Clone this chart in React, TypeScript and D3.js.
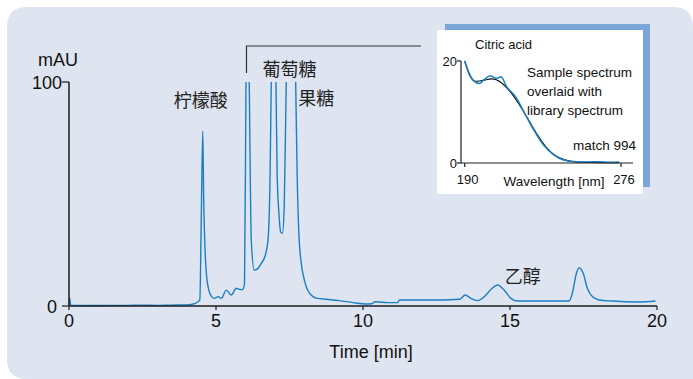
import React from "react";
import * as d3 from "d3";

// chromatogram (time in min, absorbance in mAU; off-scale peaks are estimates, clipped at 100)
const times = [
  0, 0.02, 0.06, 0.5, 1, 1.5, 2, 2.5, 3, 3.5, 4, 4.3, 4.45, 4.5, 4.55, 4.58, 4.65, 4.73,
  4.85, 4.95, 5.07, 5.18, 5.35, 5.52, 5.69, 5.8, 5.9, 5.97, 6.02, 6.07, 6.13, 6.2, 6.3,
  6.43, 6.54, 6.66, 6.77, 6.84, 6.88, 6.96, 7.04, 7.08, 7.14, 7.2, 7.26, 7.32, 7.39, 7.55,
  7.71, 7.76, 7.81, 7.9, 7.98, 8.07, 8.18, 8.3, 8.45, 8.75, 9.2, 9.66, 10.1, 10.3, 10.41,
  10.86, 11.18, 11.24, 12.06, 12.66, 13.28, 13.48, 13.67, 13.9, 14.13, 14.35, 14.58, 14.8,
  15.03, 15.26, 15.99, 17.01, 17.12, 17.26, 17.35, 17.49, 17.63, 17.8, 18.03, 18.48, 19.39,
  19.95,
];
const mAU = [
  0.3, 3.6, 0.4, 0.2, 0.2, 0.3, 0.3, 0.4, 0.3, 0.4, 0.5, 1.2, 2.7, 40, 78, 49, 19, 8.6,
  4.2, 3.4, 4.2, 3.4, 7.1, 4.9, 7.9, 7.4, 7.3, 10, 100, 160, 100, 29.5, 16,
  16.8, 19, 22, 29.5, 59, 100, 160, 100, 59, 41.5, 33, 32.5, 44, 100, 170,
  100, 59, 35, 19, 13, 8.6, 5.7, 4.2, 3.4, 3.0, 2.4, 1.5, 0.9, 1.0, 1.9,
  1.5, 1.5, 2.7, 2.7, 2.7, 3.0, 4.9, 3.4, 2.4, 4.2, 7.4, 9.4, 7.1,
  3.4, 2.2, 2.2, 2.2, 5.7, 14.6, 17.1, 14.6, 7.9, 4.2, 2.7, 2.2, 1.8,
  2.2,
];
const timeTicks = [0, 5, 10, 15, 20];
const mAUTicks = [0, 100];

const peakLabels = [
  { text: "柠檬酸", t: 4.55, v: 92 },
  { text: "葡萄糖", t: 7.57, v: 106 },
  { text: "果糖", t: 8.48, v: 93 },
  { text: "乙醇", t: 15.5, v: 13.5 },
];

// inset: UV spectrum of citric acid
const waveSample = [190, 192, 195, 198, 200.6, 204, 207.5, 210, 213, 218, 222.5, 228, 233.4, 239, 244.4, 251.7, 258, 264, 270, 275];
const sample = [20, 18, 16.1, 15.6, 16.3, 17.1, 16.6, 16.9, 15, 13, 10.1, 6.5, 3.5, 1.6, 0.6, 0.25, 0.2, 0.25, 0.15, 0.2];
const waveLib = [190, 193, 196, 200, 205, 210, 215, 220, 225, 230, 235, 240, 245, 250, 260, 270, 275];
const library = [20, 17, 16, 16.2, 16.5, 15.8, 14, 11.5, 8.5, 5.5, 3.0, 1.4, 0.6, 0.25, 0.1, 0.05, 0.05];
const waveTicks = [190, 276];
const absTicks = [0, 20];

const LATIN = "'Liberation Sans', Arial, sans-serif";
const CJK = "'Noto Sans CJK SC', sans-serif";
const BLUE = "#1b7fc6";
const AXIS = "#1e1e1e";

export default function App() {
  const x = d3.scaleLinear().domain([0, 20]).range([69, 657]);
  const y = d3.scaleLinear().domain([0, 100]).range([306, 82]);

  const trace = d3
    .line<number>()
    .x((_, i) => x(times[i]))
    .y((d) => y(d))
    .curve(d3.curveMonotoneX);

  const ix = d3.scaleLinear().domain([190, 276]).range([464.7, 621]);
  const iy = d3.scaleLinear().domain([0, 20]).range([163, 61]);
  const specSample = d3
    .line<number>()
    .x((_, i) => ix(waveSample[i]))
    .y((d) => iy(d))
    .curve(d3.curveMonotoneX);
  const specLib = d3
    .line<number>()
    .x((_, i) => ix(waveLib[i]))
    .y((d) => iy(d))
    .curve(d3.curveMonotoneX);

  const panel = "M7,27 Q7,7 27,7 L673,7 Q693,7 693,27 L693,379 L27,379 Q7,379 7,359 Z";

  return (
    <svg
      width={693}
      height={379}
      style={{ position: "absolute", left: 0, top: 0, display: "block" }}
    >
      <defs>
        <clipPath id="plotClip">
          <rect x={x(0) - 2} y={y(100)} width={x(20) - x(0) + 4} height={y(0) - y(100) + 2} />
        </clipPath>
      </defs>
      <rect width={693} height={379} fill="#fff" />
      <path d={panel} fill="#dee4f0" />

      {/* trace */}
      <path
        d={trace(mAU) || ""}
        fill="none"
        stroke={BLUE}
        strokeWidth={1.4}
        clipPath="url(#plotClip)"
      />

      {/* axes */}
      <line x1={x(0)} x2={x(20)} y1={y(0)} y2={y(0)} stroke={AXIS} strokeWidth={1.5} />
      <line x1={x(0)} x2={x(0)} y1={y(100)} y2={y(0)} stroke={AXIS} strokeWidth={1.5} />
      {timeTicks.map((t) => (
        <g key={t}>
          <line x1={x(t)} x2={x(t)} y1={y(0)} y2={y(0) + 4} stroke={AXIS} strokeWidth={1.2} />
          <text
            x={x(t)}
            y={327}
            textAnchor="middle"
            fontFamily={LATIN}
            fontSize={18}
            fill="#111"
          >
            {t}
          </text>
        </g>
      ))}
      {mAUTicks.map((v) => (
        <g key={v}>
          <line x1={x(0) - 7} x2={x(0)} y1={y(v)} y2={y(v)} stroke={AXIS} strokeWidth={1.2} />
          <text
            x={v === 0 ? 57 : 62}
            y={y(v) + 6.5}
            textAnchor="end"
            fontFamily={LATIN}
            fontSize={18}
            fill="#111"
          >
            {v}
          </text>
        </g>
      ))}
      <text x={38} y={66} fontFamily={LATIN} fontSize={18} fill="#111">
        mAU
      </text>
      <text x={371} y={358} textAnchor="middle" fontFamily={LATIN} fontSize={18} fill="#111">
        Time [min]
      </text>

      {/* peak labels */}
      {peakLabels.map((p) => (
        <text
          key={p.text}
          x={x(p.t) - 2}
          y={y(p.v) + 7}
          textAnchor="middle"
          fontFamily={CJK}
          fontSize={18}
          fill="#222"
        >
          {p.text}
        </text>
      ))}

      {/* bracket to inset */}
      <path d="M246.5,73 L246.5,46 L421,46" fill="none" stroke="#333" strokeWidth={1.2} />

      {/* inset */}
      <rect x={445} y={24} width={205} height={163} fill="#7ba6d9" />
      <rect x={437} y={30} width={206} height={164} fill="#fff" />
      <path d={specLib(library) || ""} fill="none" stroke="#111" strokeWidth={1.2} />
      <path d={specSample(sample) || ""} fill="none" stroke={BLUE} strokeWidth={1.5} />
      <line x1={461} x2={633} y1={iy(0)} y2={iy(0)} stroke={AXIS} strokeWidth={1.2} />
      <line x1={461} x2={461} y1={iy(20)} y2={iy(0)} stroke={AXIS} strokeWidth={1.2} />
      {absTicks.map((v) => (
        <g key={v}>
          <line x1={457} x2={461} y1={iy(v)} y2={iy(v)} stroke={AXIS} strokeWidth={1.2} />
          <text
            x={457}
            y={iy(v) + 5}
            textAnchor="end"
            fontFamily={LATIN}
            fontSize={13}
            fill="#111"
          >
            {v}
          </text>
        </g>
      ))}
      {waveTicks.map((w) => (
        <g key={w}>
          <line x1={ix(w)} x2={ix(w)} y1={iy(0)} y2={iy(0) + 4} stroke={AXIS} strokeWidth={1.2} />
          <text
            x={ix(w) + 3}
            y={184}
            textAnchor="middle"
            fontFamily={LATIN}
            fontSize={13}
            fill="#111"
          >
            {w}
          </text>
        </g>
      ))}
      <text x={475} y={49} fontFamily={LATIN} fontSize={13} fill="#111">
        Citric acid
      </text>
      {["Sample spectrum", "overlaid with", "library spectrum"].map((s, i) => (
        <text
          key={s}
          x={527}
          y={77 + i * 19}
          fontFamily={LATIN}
          fontSize={13.5}
          fill="#111"
        >
          {s}
        </text>
      ))}
      <text x={636} y={150} textAnchor="end" fontFamily={LATIN} fontSize={13.5} fill="#111">
        match 994
      </text>
      <text x={554} y={186} textAnchor="middle" fontFamily={LATIN} fontSize={13.5} fill="#111">
        Wavelength [nm]
      </text>
    </svg>
  );
}
